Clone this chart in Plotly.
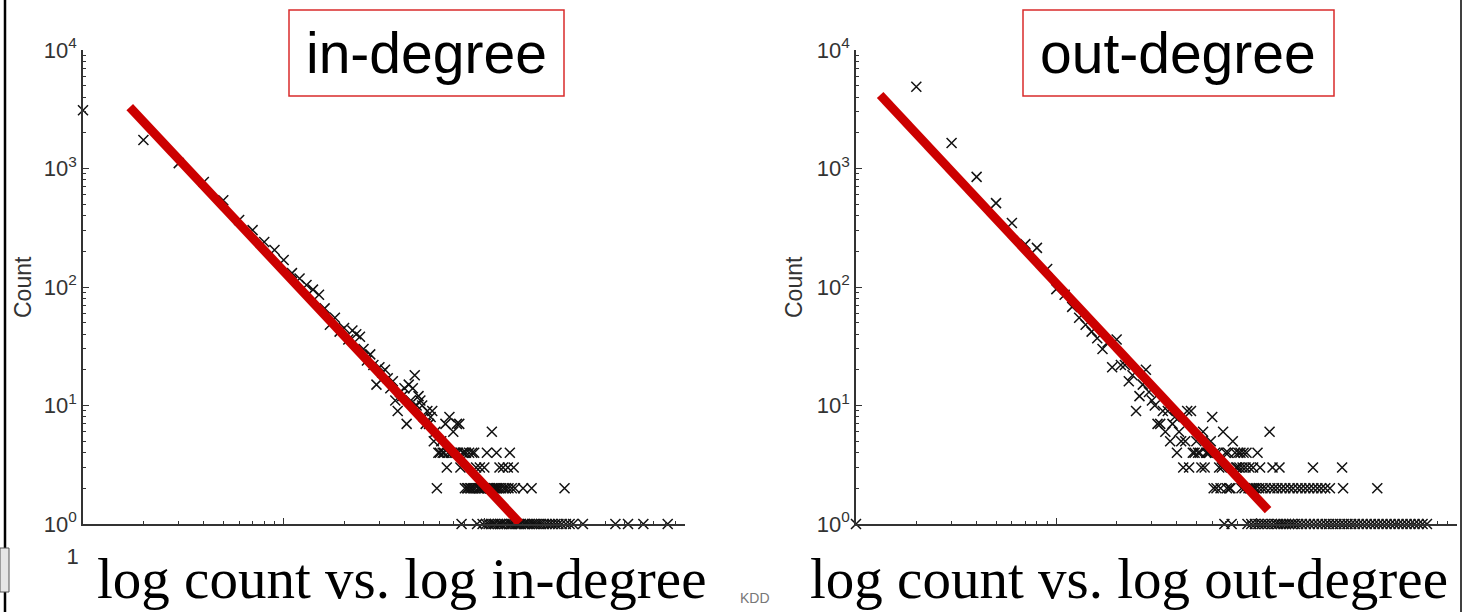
import plotly.graph_objects as go

W, H = 1463, 612

# ---------------- data ----------------
in_degree = [1, 2, 3, 4, 5, 6, 7, 8, 9, 10, 11, 12, 13, 14, 15, 16, 17, 18, 19, 20,
             21, 22, 23, 24, 25, 26, 27, 28, 29, 30, 31, 32, 33, 34, 35, 36, 37, 38, 39, 40,
             41, 42, 43, 44, 45, 46, 47, 48, 49, 50, 51, 52, 53, 54, 55, 56, 57, 58, 59, 60,
             61, 62, 63, 64, 65, 66, 67, 68, 69, 70, 71, 72, 73, 74, 75, 76, 77, 78, 79, 80,
             81, 82, 83, 84, 85, 86, 87, 88, 89, 90, 91, 92, 93, 94, 95, 96, 97, 98, 99, 100,
             101, 102, 103, 104, 105, 106, 107, 108, 109, 110, 111, 112, 113, 114, 115, 116,
             117, 118, 119, 120, 121, 122, 124, 125, 126, 128, 129, 131, 132, 133, 134, 136,
             137, 138, 140, 142, 143, 146, 149, 152, 156, 157, 160, 164, 168, 172, 173, 177,
             182, 187, 192, 198, 204, 211, 218, 226, 234, 243, 251, 255, 266, 277, 310, 450,
             520, 620, 820]
in_count = [3100, 1740, 1110, 770, 540, 367, 302, 240, 205, 169, 131, 118, 104, 95, 86, 66, 48, 55, 42, 45,
            36, 43, 40, 38, 30, 24, 27, 22, 15, 21, 19, 20, 17, 14, 16, 11, 9, 13, 12, 14,
            7, 15, 11, 14, 18, 10, 12, 11, 10, 8, 7, 9, 7, 8, 9, 5, 6, 2, 4, 4,
            5, 4, 4, 7, 3, 4, 8, 4, 4, 6, 4, 4, 7, 4, 7, 3, 1, 4, 4, 2,
            4, 2, 2, 4, 2, 2, 4, 2, 4, 2, 3, 1, 2, 2, 3, 2, 2, 1, 2, 3,
            2, 1, 4, 2, 1, 2, 2, 1, 6, 2, 1, 2, 1, 2, 4, 2,
            1, 2, 3, 1, 2, 1, 3, 2, 1, 2, 1, 3, 2, 1, 4, 1,
            2, 1, 3, 2, 1, 1, 1, 1, 2, 1, 1, 1, 1, 2, 1, 1,
            1, 1, 1, 1, 1, 1, 1, 1, 1, 1, 2, 1, 1, 1, 1, 1,
            1, 1, 1]

out_degree = [1, 2, 3, 4, 5, 6, 7, 8, 9, 10, 11, 12, 13, 14, 15, 16, 17, 18, 19, 20,
              21, 22, 23, 24, 25, 26, 27, 28, 29, 30, 31, 32, 33, 34, 35, 36, 37, 38, 39, 40,
              41, 42, 43, 44, 45, 46, 47, 48, 49, 50, 51, 52, 53, 54, 55, 56, 57, 58, 59, 60,
              61, 62, 63, 64, 65, 66, 67, 68, 69, 70, 71, 72, 73, 74, 75, 76, 78, 79, 80, 81,
              82, 83, 84, 85, 86, 87, 88, 89, 90, 91, 92, 93, 94, 95, 96, 97, 98, 99, 101, 102,
              103, 104, 106, 107, 110, 111, 114, 116, 117, 119, 120, 122, 124, 127, 128, 130,
              132, 133, 136, 139, 140, 145, 146, 150, 152, 155, 160, 161, 167, 168, 175, 176,
              183, 184, 191, 192, 193, 201, 202, 210, 211, 220, 221, 230, 232, 240, 250, 261,
              267, 270, 272, 284, 296, 309, 323, 338, 354, 371, 388, 400, 406, 425, 445, 466,
              488, 511, 535, 560, 586, 614, 643, 673, 708]
out_count = [1, 4890, 1640, 850, 510, 347, 230, 214, 142, 96, 86, 68, 55, 48, 42, 37, 30, 34, 21, 36,
             22, 22, 16, 18, 9, 12, 15, 20, 13, 11, 10, 7, 7, 9, 6, 9, 5, 7, 8, 4,
             6, 5, 3, 5, 9, 3, 9, 4, 4, 5, 4, 4, 3, 6, 3, 4, 4, 4, 5, 8,
             2, 4, 2, 4, 3, 2, 3, 6, 1, 4, 2, 4, 2, 2, 1, 5, 4, 3, 3, 4,
             3, 4, 2, 3, 4, 2, 3, 4, 1, 2, 3, 2, 1, 2, 3, 2, 1, 2, 4, 1,
             2, 3, 1, 2, 1, 2, 1, 6, 2, 1, 3, 2, 1, 2, 1, 3,
             1, 2, 1, 2, 1, 1, 2, 1, 2, 1, 2, 1, 2, 1, 2, 1,
             2, 1, 3, 2, 1, 2, 1, 2, 1, 2, 1, 1, 2, 1, 1, 1,
             3, 2, 1, 1, 1, 1, 1, 1, 1, 1, 1, 2, 1, 1, 1, 1,
             1, 1, 1, 1, 1, 1, 1, 1, 1]

in_fit_degree = [1.71, 150]
in_fit_count = [3300, 1.02]
out_fit_degree = [1.32, 114]
out_fit_count = [4170, 1.31]

y_tick_vals = [1, 10, 100, 1000, 10000]
y_tick_text = ["10<sup>0</sup>", "10<sup>1</sup>", "10<sup>2</sup>", "10<sup>3</sup>", "10<sup>4</sup>"]
x_tick_vals = [1, 10, 100, 1000]
x_tick_text = ["10<sup>0</sup>", "10<sup>1</sup>", "10<sup>2</sup>", "10<sup>3</sup>"]

panel_titles = ["in-degree", "out-degree"]
captions = ["log count vs. log in-degree", "log count vs. log out-degree"]
y_title = "Count"
footer = "KDD"

# ---------------- helpers ----------------
def fx(p):
    return p / W


def fy(p):
    return 1 - p / H


SANS = "Liberation Sans, Arial, sans-serif"
SERIF = "Liberation Serif, Times New Roman, serif"
AX = "#333333"
RED = "#cc0000"

minor_x = [m * 10 ** e for e in range(3) for m in range(2, 10)]
minor_y = [m * 10 ** e for e in range(4) for m in range(2, 10)]

fig = go.Figure()

for i, (deg, cnt, fdeg, fcnt) in enumerate([
        (in_degree, in_count, in_fit_degree, in_fit_count),
        (out_degree, out_count, out_fit_degree, out_fit_count)]):
    xa = "x" if i == 0 else "x2"
    ya = "y" if i == 0 else "y2"
    fig.add_trace(go.Scatter(
        x=deg, y=cnt, mode="markers", xaxis=xa, yaxis=ya, cliponaxis=False,
        marker=dict(symbol="x-thin", size=10, color="black",
                    line=dict(width=1.5, color="#111111")),
        hoverinfo="x+y"))
    fig.add_trace(go.Scatter(
        x=fdeg, y=fcnt, mode="lines", xaxis=xa, yaxis=ya, cliponaxis=False,
        line=dict(color=RED, width=9), hoverinfo="skip"))


def xaxis_cfg(x0, x1, anchor):
    return dict(
        domain=[fx(x0), fx(x1)], type="log", range=[0, 3], anchor=anchor,
        showline=True, linecolor=AX, linewidth=1.5, showgrid=False, zeroline=False,
        ticks="inside", ticklen=6, tickwidth=1, tickcolor=AX, automargin=False,
        tickmode="array", tickvals=x_tick_vals, ticktext=x_tick_text,
        tickfont=dict(family=SANS, size=22, color=AX), ticklabelstandoff=12,
        minor=dict(tickmode="array", tickvals=minor_x, ticks="inside", ticklen=3,
                   tickwidth=1, tickcolor=AX, showgrid=False),
    )


def yaxis_cfg(anchor):
    return dict(
        domain=[fy(524), fy(50)], type="log", range=[0, 4], anchor=anchor,
        showline=True, linecolor=AX, linewidth=1.5, showgrid=False, zeroline=False,
        ticks="inside", ticklen=6, tickwidth=1, tickcolor=AX, automargin=False,
        tickmode="array", tickvals=y_tick_vals, ticktext=y_tick_text,
        tickfont=dict(family=SANS, size=22, color=AX),
        minor=dict(tickmode="array", tickvals=minor_y, ticks="inside", ticklen=3,
                   tickwidth=1, tickcolor=AX, showgrid=False),
    )


shapes = [
    # slide frame lines
    dict(type="line", xref="paper", yref="paper", x0=fx(5), x1=fx(5), y0=0, y1=1,
         line=dict(color="black", width=2.5)),
    dict(type="line", xref="paper", yref="paper", x0=fx(1461), x1=fx(1461), y0=0, y1=1,
         line=dict(color="black", width=1.5)),
    dict(type="rect", xref="paper", yref="paper", x0=0, x1=fx(9), y0=fy(592), y1=fy(548),
         line=dict(color="#555555", width=1), fillcolor="#e6e6e6"),
    # title boxes
    dict(type="rect", xref="paper", yref="paper", x0=fx(289), x1=fx(564), y0=fy(96), y1=fy(10),
         line=dict(color="#d92b2b", width=1.5), fillcolor="rgba(0,0,0,0)"),
    dict(type="rect", xref="paper", yref="paper", x0=fx(1023), x1=fx(1334), y0=fy(96), y1=fy(10),
         line=dict(color="#d92b2b", width=1.5), fillcolor="rgba(0,0,0,0)"),
    # white caption panels covering the x tick labels
    dict(type="rect", xref="paper", yref="paper", layer="above", x0=fx(79), x1=fx(712),
         y0=0, y1=fy(541), line=dict(width=0), fillcolor="white"),
    dict(type="rect", xref="paper", yref="paper", layer="above", x0=fx(797), x1=fx(1458),
         y0=0, y1=fy(541), line=dict(width=0), fillcolor="white"),
]

annotations = [
    dict(text=panel_titles[0], x=fx(426), y=fy(53), xref="paper", yref="paper",
         showarrow=False, xanchor="center", yanchor="middle",
         font=dict(family=SANS, size=57, color="black")),
    dict(text=panel_titles[1], x=fx(1178), y=fy(53), xref="paper", yref="paper",
         showarrow=False, xanchor="center", yanchor="middle",
         font=dict(family=SANS, size=57, color="black")),
    dict(text=y_title, x=fx(23), y=fy(287), xref="paper", yref="paper", textangle=-90,
         showarrow=False, xanchor="center", yanchor="middle",
         font=dict(family=SANS, size=23, color=AX)),
    dict(text=y_title, x=fx(794), y=fy(287), xref="paper", yref="paper", textangle=-90,
         showarrow=False, xanchor="center", yanchor="middle",
         font=dict(family=SANS, size=23, color=AX)),
    dict(text=footer, x=fx(755), y=fy(598), xref="paper", yref="paper",
         showarrow=False, xanchor="center", yanchor="middle",
         font=dict(family=SANS, size=14, color="#777777")),
    dict(text=captions[0], x=fx(401), y=fy(578), xref="paper", yref="paper",
         showarrow=False, xanchor="center", yanchor="middle",
         font=dict(family=SERIF, size=57, color="black")),
    dict(text=captions[1], x=fx(1129), y=fy(578), xref="paper", yref="paper",
         showarrow=False, xanchor="center", yanchor="middle",
         font=dict(family=SERIF, size=57, color="black")),
]

fig.update_layout(
    width=W, height=H, margin=dict(l=0, r=0, t=0, b=0, autoexpand=False),
    paper_bgcolor="white", plot_bgcolor="white", showlegend=False,
    xaxis=xaxis_cfg(83, 685, "y"), yaxis=yaxis_cfg("x"),
    xaxis2=xaxis_cfg(856, 1457, "y2"), yaxis2=yaxis_cfg("x2"),
    shapes=shapes, annotations=annotations,
)

fig.write_html("out.html")
